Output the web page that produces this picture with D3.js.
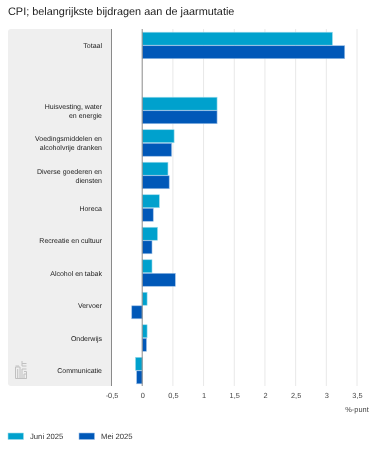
<!doctype html>
<html>
  <head>
    <meta charset="utf-8">
    <script src="https://cdnjs.cloudflare.com/ajax/libs/d3/7.8.5/d3.min.js"></script>
    <style>
      html, body { margin: 0; padding: 0; background: #fff; }
      svg { display: block; font-family: "Liberation Sans", Arial, sans-serif; text-rendering: geometricPrecision; will-change: opacity; opacity: 0.999; }
    </style>
  </head>
  <body>
    <svg width="386" height="450"></svg>
    <script>
        // empty entry is the gap row under Totaal
        var categories = ["Totaal", "", "Huisvesting, water|en energie", "Voedingsmiddelen en|alcoholvrije dranken",
            "Diverse goederen en|diensten", "Horeca", "Recreatie en cultuur", "Alcohol en tabak", "Vervoer", "Onderwijs", "Communicatie"];
        var juni = [3.1, null, 1.22, 0.52, 0.42, 0.28, 0.25, 0.16, 0.08, 0.08, -0.11];
        var mei = [3.3, null, 1.22, 0.48, 0.44, 0.18, 0.16, 0.54, -0.17, 0.07, -0.09];
        var xTicks = [-0.5, 0, 0.5, 1, 1.5, 2, 2.5, 3, 3.5];
        var seriesNames = ["Juni 2025", "Mei 2025"];
        var seriesColours = ["#00a1cd", "#0058b8"];
        var seriesStrokes = ["#9ddcec", "#9cc0e6"];

        var svg = d3.select("svg");

        var x = d3.scaleLinear().domain([-0.5, 3.5]).range([111.5, 357]);
        var y = d3.scaleBand().domain(d3.range(categories.length)).range([29, 386.6]);
        var inner = d3.scaleBand().domain([0, 1]).range([3.2, y.bandwidth() - 2.8]).paddingInner(0.04);

        // grey label panel, rounded on the left only
        svg.append("path")
            .attr("d", "M111.5,29H11a3,3 0 0 0 -3,3V383a3,3 0 0 0 3,3H111.5Z")
            .attr("fill", "#efefef");

        svg.append("text")
            .attr("x", 8).attr("y", 15)
            .attr("font-size", 10.9).attr("fill", "#222")
            .text("CPI; belangrijkste bijdragen aan de jaarmutatie");

        // gridlines
        svg.append("g").selectAll("line")
            .data(xTicks.filter(d => d > 0))
            .enter().append("line")
                .attr("x1", d => x(d)).attr("x2", d => x(d))
                .attr("y1", 29).attr("y2", 386)
                .attr("stroke", "#e8e8e8").attr("stroke-width", 1);

        // bars
        [juni, mei].forEach(function(values, s) {
            svg.append("g").selectAll("rect")
                .data(values.map((v, i) => ({v: v, i: i})).filter(d => d.v !== null))
                .enter().append("rect")
                    .attr("x", d => x(Math.min(0, d.v)))
                    .attr("y", d => y(d.i) + inner(s))
                    .attr("width", d => Math.abs(x(d.v) - x(0)))
                    .attr("height", inner.bandwidth())
                    .attr("fill", seriesColours[s])
                    .attr("stroke", seriesStrokes[s])
                    .attr("stroke-width", 0.6);
        });

        // the two dark verticals: panel edge and zero line
        [-0.5, 0].forEach(function(t) {
            svg.append("line")
                .attr("x1", x(t)).attr("x2", x(t))
                .attr("y1", 29).attr("y2", 386)
                .attr("stroke", "#8a8a8a").attr("stroke-width", 1);
        });

        // x axis labels
        var axis = d3.axisBottom(x)
            .tickValues(xTicks)
            .tickSize(0)
            .tickPadding(0)
            .tickFormat(d => String(d).replace(".", ","));
        var axisG = svg.append("g").attr("transform", "translate(0,392.5)").call(axis);
        axisG.select(".domain").remove();
        axisG.selectAll("text")
            .attr("font-size", 7.4)
            .attr("font-family", "inherit")
            .attr("fill", "#444");

        svg.append("text")
            .attr("x", 357).attr("y", 412)
            .attr("text-anchor", "middle")
            .attr("font-size", 7.4).attr("fill", "#444")
            .text("%-punt");

        // category labels
        var labels = svg.append("g").selectAll("text")
            .data(categories)
            .enter().append("text")
                .attr("text-anchor", "end")
                .attr("font-size", 7)
                .attr("fill", "#222");
        labels.each(function(d, i) {
            var lines = d.split("|");
            var mid = y(i) + y.bandwidth() / 2;
            d3.select(this).selectAll("tspan")
                .data(lines)
                .enter().append("tspan")
                    .attr("x", 102)
                    .attr("y", (l, k) => mid + 2.8 + (k - (lines.length - 1) / 2) * 9)
                    .text(l => l);
        });

        // legend
        var legend = svg.append("g").selectAll("g")
            .data(seriesNames)
            .enter().append("g")
                .attr("transform", (d, i) => "translate(" + [8, 79][i] + ",433)");
        legend.append("rect")
            .attr("width", 15.5).attr("height", 6.5)
            .attr("fill", (d, i) => seriesColours[i])
            .attr("stroke", (d, i) => seriesStrokes[i])
            .attr("stroke-width", 0.6);
        legend.append("text")
            .attr("x", 22).attr("y", 6.3)
            .attr("font-size", 7.7).attr("fill", "#333")
            .text(d => d);

        // CBS logo in the corner of the panel
        svg.append("g")
            .attr("transform", "translate(15,360)")
            .attr("fill", "none").attr("stroke", "#c0c0c0").attr("stroke-width", 1)
            .selectAll("path")
            .data(["M0.5,18.5V7H5V18.5", "M2.7,18.5V9", "M7,18.5V9H11.5", "M7,3.5H11.5M7,6H11.5M7,1V6", "M0.5,6H4", "M9,11.5H11.5V18.5H9V14H11.5", "M0.5,18.5H11.5"])
            .enter().append("path")
                .attr("d", d => d);
    </script>
  </body>
</html>
